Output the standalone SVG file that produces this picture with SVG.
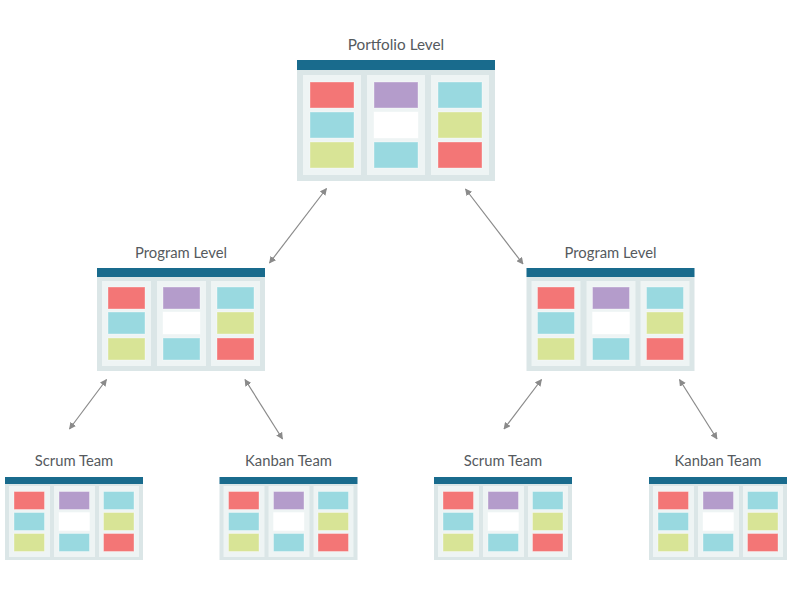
<svg xmlns="http://www.w3.org/2000/svg" width="792" height="612" viewBox="0 0 792 612">
<style>
.lbl{font-family:Lato,"Open Sans","Liberation Sans",sans-serif;font-size:14.8px;fill:#555a5e;text-anchor:middle}
.hdr{fill:#196b8d}
.body{fill:#dbe6e7}
.col{fill:#eef4f4}
.r{fill:#f37676}
.c{fill:#99d9e0}
.g{fill:#d8e496}
.p{fill:#b49ccb}
.w{fill:#ffffff}
.card{stroke:#ffffff;stroke-opacity:0.35;stroke-width:1}
.conn{stroke:#8a8a8a;stroke-width:1.2;fill:none;marker-start:url(#ah);marker-end:url(#ah)}
</style>
<defs>
<marker id="ah" viewBox="0 0 10 10" refX="9" refY="5" markerWidth="7" markerHeight="7" markerUnits="userSpaceOnUse" orient="auto-start-reverse">
<path d="M0,0 L10,5 L0,10 z" fill="#8a8a8a"/>
</marker>
</defs>
<rect width="792" height="612" fill="#ffffff"/>

<g id="connectors">
<line class="conn" x1="269.5" y1="263" x2="326.5" y2="188.5"/>
<line class="conn" x1="465.5" y1="189" x2="523" y2="264"/>
<line class="conn" x1="69.5" y1="429" x2="106.5" y2="379.5"/>
<line class="conn" x1="245" y1="379.5" x2="282.5" y2="439"/>
<line class="conn" x1="504" y1="429" x2="541.5" y2="379.5"/>
<line class="conn" x1="679.5" y1="379.5" x2="717" y2="439"/>
</g>

<g id="portfolio" transform="translate(297,60)">
<text class="lbl" x="99" y="-10" style="font-size:15.3px">Portfolio Level</text>
<rect class="hdr" x="0" y="0" width="198" height="10"/>
<rect class="body" x="0" y="10" width="198" height="111"/>
<rect class="col" x="6" y="15" width="58" height="100"/>
<rect class="col" x="70" y="15" width="58" height="100"/>
<rect class="col" x="134" y="15" width="58" height="100"/>
<rect class="card r" x="13" y="22" width="44" height="26"/>
<rect class="card c" x="13" y="52" width="44" height="26"/>
<rect class="card g" x="13" y="82" width="44" height="26"/>
<rect class="card p" x="77" y="22" width="44" height="26"/>
<rect class="card w" x="77" y="52" width="44" height="26"/>
<rect class="card c" x="77" y="82" width="44" height="26"/>
<rect class="card c" x="141" y="22" width="44" height="26"/>
<rect class="card g" x="141" y="52" width="44" height="26"/>
<rect class="card r" x="141" y="82" width="44" height="26"/>
</g>

<g id="program-left" transform="translate(97,268)">
<text class="lbl" x="84" y="-10">Program Level</text>
<rect class="hdr" x="0" y="0" width="168" height="9"/>
<rect class="body" x="0" y="9" width="168" height="94"/>
<rect class="col" x="5" y="13" width="49" height="85"/>
<rect class="col" x="60" y="13" width="49" height="85"/>
<rect class="col" x="114" y="13" width="49" height="85"/>
<rect class="card r" x="11" y="19" width="37" height="22"/>
<rect class="card c" x="11" y="44" width="37" height="22"/>
<rect class="card g" x="11" y="70" width="37" height="22"/>
<rect class="card p" x="66" y="19" width="37" height="22"/>
<rect class="card w" x="66" y="44" width="37" height="22"/>
<rect class="card c" x="66" y="70" width="37" height="22"/>
<rect class="card c" x="120" y="19" width="37" height="22"/>
<rect class="card g" x="120" y="44" width="37" height="22"/>
<rect class="card r" x="120" y="70" width="37" height="22"/>
</g>

<g id="program-right" transform="translate(526.5,268)">
<text class="lbl" x="84" y="-10">Program Level</text>
<rect class="hdr" x="0" y="0" width="168" height="9"/>
<rect class="body" x="0" y="9" width="168" height="94"/>
<rect class="col" x="5" y="13" width="49" height="85"/>
<rect class="col" x="60" y="13" width="49" height="85"/>
<rect class="col" x="114" y="13" width="49" height="85"/>
<rect class="card r" x="11" y="19" width="37" height="22"/>
<rect class="card c" x="11" y="44" width="37" height="22"/>
<rect class="card g" x="11" y="70" width="37" height="22"/>
<rect class="card p" x="66" y="19" width="37" height="22"/>
<rect class="card w" x="66" y="44" width="37" height="22"/>
<rect class="card c" x="66" y="70" width="37" height="22"/>
<rect class="card c" x="120" y="19" width="37" height="22"/>
<rect class="card g" x="120" y="44" width="37" height="22"/>
<rect class="card r" x="120" y="70" width="37" height="22"/>
</g>

<g id="scrum-left" transform="translate(5,477)">
<text class="lbl" x="69" y="-11">Scrum Team</text>
<rect class="hdr" x="0" y="0" width="138" height="7"/>
<rect class="body" x="0" y="7" width="138" height="76"/>
<rect class="col" x="4" y="9" width="41" height="71"/>
<rect class="col" x="49" y="9" width="41" height="71"/>
<rect class="col" x="94" y="9" width="40" height="71"/>
<rect class="card r" x="9" y="14.5" width="30.5" height="18"/>
<rect class="card c" x="9" y="35.5" width="30.5" height="18"/>
<rect class="card g" x="9" y="56.5" width="30.5" height="18"/>
<rect class="card p" x="54" y="14.5" width="30.5" height="18"/>
<rect class="card w" x="54" y="35.5" width="30.5" height="18"/>
<rect class="card c" x="54" y="56.5" width="30.5" height="18"/>
<rect class="card c" x="98.5" y="14.5" width="30.5" height="18"/>
<rect class="card g" x="98.5" y="35.5" width="30.5" height="18"/>
<rect class="card r" x="98.5" y="56.5" width="30.5" height="18"/>
</g>

<g id="kanban-left" transform="translate(219.5,477)">
<text class="lbl" x="69" y="-11">Kanban Team</text>
<rect class="hdr" x="0" y="0" width="138" height="7"/>
<rect class="body" x="0" y="7" width="138" height="76"/>
<rect class="col" x="4" y="9" width="41" height="71"/>
<rect class="col" x="49" y="9" width="41" height="71"/>
<rect class="col" x="94" y="9" width="40" height="71"/>
<rect class="card r" x="9" y="14.5" width="30.5" height="18"/>
<rect class="card c" x="9" y="35.5" width="30.5" height="18"/>
<rect class="card g" x="9" y="56.5" width="30.5" height="18"/>
<rect class="card p" x="54" y="14.5" width="30.5" height="18"/>
<rect class="card w" x="54" y="35.5" width="30.5" height="18"/>
<rect class="card c" x="54" y="56.5" width="30.5" height="18"/>
<rect class="card c" x="98.5" y="14.5" width="30.5" height="18"/>
<rect class="card g" x="98.5" y="35.5" width="30.5" height="18"/>
<rect class="card r" x="98.5" y="56.5" width="30.5" height="18"/>
</g>

<g id="scrum-right" transform="translate(434,477)">
<text class="lbl" x="69" y="-11">Scrum Team</text>
<rect class="hdr" x="0" y="0" width="138" height="7"/>
<rect class="body" x="0" y="7" width="138" height="76"/>
<rect class="col" x="4" y="9" width="41" height="71"/>
<rect class="col" x="49" y="9" width="41" height="71"/>
<rect class="col" x="94" y="9" width="40" height="71"/>
<rect class="card r" x="9" y="14.5" width="30.5" height="18"/>
<rect class="card c" x="9" y="35.5" width="30.5" height="18"/>
<rect class="card g" x="9" y="56.5" width="30.5" height="18"/>
<rect class="card p" x="54" y="14.5" width="30.5" height="18"/>
<rect class="card w" x="54" y="35.5" width="30.5" height="18"/>
<rect class="card c" x="54" y="56.5" width="30.5" height="18"/>
<rect class="card c" x="98.5" y="14.5" width="30.5" height="18"/>
<rect class="card g" x="98.5" y="35.5" width="30.5" height="18"/>
<rect class="card r" x="98.5" y="56.5" width="30.5" height="18"/>
</g>

<g id="kanban-right" transform="translate(649,477)">
<text class="lbl" x="69" y="-11">Kanban Team</text>
<rect class="hdr" x="0" y="0" width="138" height="7"/>
<rect class="body" x="0" y="7" width="138" height="76"/>
<rect class="col" x="4" y="9" width="41" height="71"/>
<rect class="col" x="49" y="9" width="41" height="71"/>
<rect class="col" x="94" y="9" width="40" height="71"/>
<rect class="card r" x="9" y="14.5" width="30.5" height="18"/>
<rect class="card c" x="9" y="35.5" width="30.5" height="18"/>
<rect class="card g" x="9" y="56.5" width="30.5" height="18"/>
<rect class="card p" x="54" y="14.5" width="30.5" height="18"/>
<rect class="card w" x="54" y="35.5" width="30.5" height="18"/>
<rect class="card c" x="54" y="56.5" width="30.5" height="18"/>
<rect class="card c" x="98.5" y="14.5" width="30.5" height="18"/>
<rect class="card g" x="98.5" y="35.5" width="30.5" height="18"/>
<rect class="card r" x="98.5" y="56.5" width="30.5" height="18"/>
</g>
</svg>
